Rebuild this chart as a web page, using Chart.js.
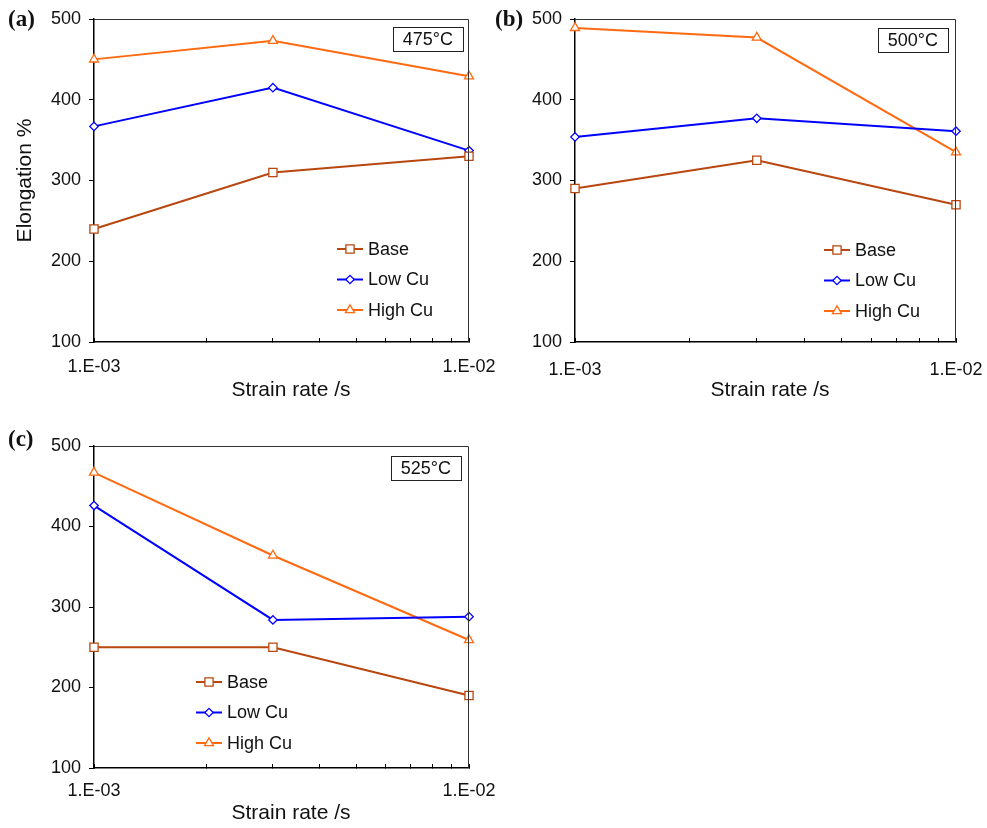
<!DOCTYPE html>
<html><head><meta charset="utf-8">
<script src="https://cdn.jsdelivr.net/npm/chart.js@4.4.0/dist/chart.umd.min.js"></script>
<style>
html,body{margin:0;padding:0;background:#fff;overflow:hidden;width:987px;height:828px;position:relative}
.p{position:absolute}
.lbl{position:absolute;font-family:"Liberation Serif","DejaVu Serif",serif;font-weight:bold;font-size:23px;line-height:24px;color:#111}
</style></head><body>
<div class="p" style="left:0;top:0;width:500px;height:410px"><canvas id="ca" width="500" height="410"></canvas></div>
<div class="p" style="left:487px;top:0;width:500px;height:410px"><canvas id="cb" width="500" height="410"></canvas></div>
<div class="p" style="left:0;top:420px;width:500px;height:408px"><canvas id="cc" width="500" height="408"></canvas></div>
<div class="lbl" style="left:8px;top:7px">(a)</div>
<div class="lbl" style="left:495px;top:7px">(b)</div>
<div class="lbl" style="left:8px;top:427px">(c)</div>
<script>
// ---- data ----
const strainRates = [0.001, 0.003, 0.01];
const seriesNames = ['Base', 'Low Cu', 'High Cu'];
const temperatures = ['475°C', '500°C', '525°C'];
const xTitle = 'Strain rate /s';
const yTitle = 'Elongation %';

const base475 = [240, 310, 330];
const lowCu475 = [367, 415, 337];
const highCu475 = [450, 473, 429];

const base500 = [290, 325, 270];
const lowCu500 = [354, 377, 361];
const highCu500 = [489, 477, 335];

const base525 = [250, 250, 190];
const lowCu525 = [426, 284, 288];
const highCu525 = [467, 364, 259];

const xTickValues = [0.001, 0.002, 0.003, 0.004, 0.005, 0.006, 0.007, 0.008, 0.009, 0.01];
const xTickLabels = ['1.E-03', '', '', '', '', '', '', '', '', '1.E-02'];
const yTickValues = [100, 200, 300, 400, 500];

// ---- styles ----
const FONT = '"Liberation Sans", Arial, Helvetica, sans-serif';
Chart.defaults.font.family = FONT;
const seriesStyles = [
  { color: '#B8460E', pointStyle: 'rect', radius: 5.8 },
  { color: '#0000FF', pointStyle: 'rectRot', radius: 4.2 },
  { color: '#FF6A10', pointStyle: 'triangle', radius: 5.2 }
];

function drawMarker(ctx, style, x, y) {
  const H = Chart.helpers;
  if (H && H.drawPoint) {
    ctx.save();
    ctx.strokeStyle = style.color; ctx.fillStyle = '#fff'; ctx.lineWidth = 1.3;
    H.drawPoint(ctx, { pointStyle: style.pointStyle, radius: style.radius, rotation: 0, borderWidth: 1.3 }, x, y);
    ctx.restore();
  }
}

const decorPlugin = {
  id: 'decor',
  afterDraw(chart, args, opts) {
    const ctx = chart.ctx, a = chart.chartArea;
    ctx.save();
    // top / right frame
    ctx.strokeStyle = '#333'; ctx.lineWidth = 1;
    ctx.beginPath();
    ctx.moveTo(a.left, a.top + 0.5);
    ctx.lineTo(a.right - 0.5, a.top + 0.5);
    ctx.lineTo(a.right - 0.5, a.bottom);
    ctx.stroke();
    // x axis title
    ctx.font = '21px ' + FONT;
    ctx.fillStyle = '#111'; ctx.textAlign = 'center'; ctx.textBaseline = 'middle';
    ctx.fillText(xTitle, (a.left + a.right) / 2 + opts.titleShift, opts.titleY);
    // temperature box
    ctx.font = '18px ' + FONT;
    const tw = ctx.measureText(opts.temp).width;
    const bw = tw + 20, bh = 24;
    const bx = a.right - opts.boxRight - bw, by = a.top + opts.boxTop;
    ctx.fillStyle = '#fff';
    ctx.fillRect(bx, by, bw, bh);
    ctx.strokeStyle = '#222'; ctx.lineWidth = 1;
    ctx.strokeRect(Math.round(bx) + 0.5, Math.round(by) + 0.5, Math.round(bw), bh);
    ctx.fillStyle = '#111';
    ctx.fillText(opts.temp, bx + bw / 2, by + bh / 2 + 1);
    // legend
    ctx.textAlign = 'left';
    chart.data.datasets.forEach((ds, i) => {
      const st = seriesStyles[i];
      const y = opts.legY + i * opts.legGap;
      ctx.strokeStyle = st.color; ctx.lineWidth = 2;
      ctx.beginPath(); ctx.moveTo(opts.legX, y); ctx.lineTo(opts.legX + 26, y); ctx.stroke();
      drawMarker(ctx, st, opts.legX + 13, y);
      ctx.fillStyle = '#111';
      ctx.fillText(ds.label, opts.legX + 31, y + 1);
    });
    ctx.restore();
  }
};

function makeChart(id, series, cfg) {
  const datasets = series.map((vals, i) => ({
    label: seriesNames[i],
    data: strainRates.map((x, j) => ({ x: x, y: vals[j] })),
    borderColor: seriesStyles[i].color,
    borderWidth: 2,
    pointStyle: seriesStyles[i].pointStyle,
    pointRadius: seriesStyles[i].radius,
    pointBorderWidth: 1.3,
    pointBorderColor: seriesStyles[i].color,
    pointBackgroundColor: '#fff',
    tension: 0,
    clip: false
  }));
  return new Chart(document.getElementById(id), {
    type: 'line',
    data: { datasets },
    plugins: [decorPlugin],
    options: {
      responsive: false,
      animation: false,
      events: [],
      layout: { padding: { top: cfg.padTop, right: cfg.padRight, left: 0, bottom: 0 } },
      plugins: {
        legend: { display: false },
        tooltip: { enabled: false },
        decor: cfg.decor
      },
      scales: {
        x: {
          type: 'logarithmic',
          min: 0.001, max: 0.01,
          afterBuildTicks: s => { s.ticks = xTickValues.map(v => ({ value: v })); },
          afterFit: s => { s.height = cfg.xHeight; s.paddingLeft = 0; s.paddingRight = 0; },
          ticks: {
            autoSkip: false, maxRotation: 0, minRotation: 0,
            padding: cfg.xTickPad, color: '#111', font: { size: 18 },
            callback: (v, i) => xTickLabels[i]
          },
          grid: { drawOnChartArea: false, drawTicks: true, tickLength: -4, color: '#000', tickWidth: 1 },
          border: { color: '#000', width: 1.5 },
          title: { display: false }
        },
        y: {
          type: 'linear',
          min: 100, max: 500,
          afterBuildTicks: s => { s.ticks = yTickValues.map(v => ({ value: v })); },
          afterFit: s => { s.width = cfg.yWidth; s.paddingTop = 0; s.paddingBottom = 0; },
          ticks: { padding: 8, color: '#111', font: { size: 18 } },
          grid: { drawOnChartArea: false, drawTicks: true, tickLength: 5, color: '#000', tickWidth: 1 },
          border: { color: '#000', width: 1.5 },
          title: { display: !!cfg.yTitle, text: cfg.yTitle || '', color: '#111', font: { size: 21 }, padding: { top: 13, bottom: 0 } }
        }
      }
    }
  });
}

makeChart('ca', [base475, lowCu475, highCu475], {
  padTop: 19, padRight: 31, xHeight: 68, yWidth: 94, xTickPad: 18, yTitle: yTitle,
  decor: { temp: temperatures[0], boxRight: 6, boxTop: 8, legX: 337, legY: 249, legGap: 30.5, titleShift: 9.5, titleY: 390 }
});
makeChart('cb', [base500, lowCu500, highCu500], {
  padTop: 19, padRight: 31, xHeight: 68, yWidth: 88, xTickPad: 21,
  decor: { temp: temperatures[1], boxRight: 8, boxTop: 9, legX: 337, legY: 250, legGap: 30.5, titleShift: 4.5, titleY: 390 }
});
makeChart('cc', [base525, lowCu525, highCu525], {
  padTop: 26, padRight: 31, xHeight: 60, yWidth: 94, xTickPad: 16,
  decor: { temp: temperatures[2], boxRight: 8, boxTop: 10, legX: 196, legY: 262, legGap: 30.5, titleShift: 9.5, titleY: 393 }
});
</script>
</body></html>
